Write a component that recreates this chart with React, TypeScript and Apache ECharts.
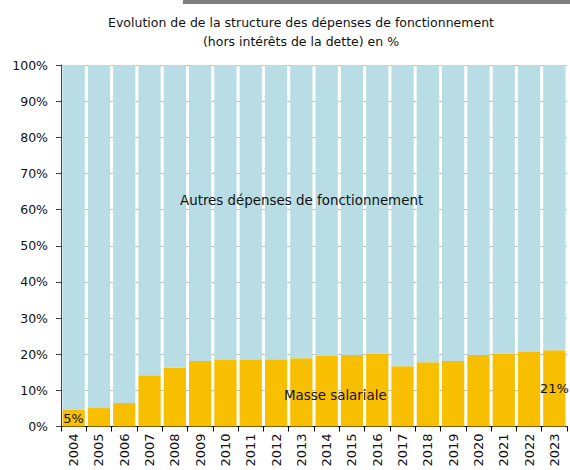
import React, { useEffect, useRef } from "react";
import * as echarts from "echarts";

const years = ["2004","2005","2006","2007","2008","2009","2010","2011","2012","2013","2014","2015","2016","2017","2018","2019","2020","2021","2022","2023"];
const masseSalariale = [4.7,5.1,6.5,14.2,16.3,18.1,18.4,18.4,18.6,18.9,19.5,19.8,20.2,16.7,17.8,18.1,19.8,20.2,20.6,21.1];
const autres = masseSalariale.map((v) => +(100 - v).toFixed(1));
const yTicks = [0, 10, 20, 30, 40, 50, 60, 70, 80, 90, 100];

const FONT = "DejaVu Sans";

export default function App() {
  const ref = useRef<HTMLDivElement>(null);
  useEffect(() => {
    if (!ref.current) return;
    const chart = echarts.init(ref.current, null, { renderer: "svg" });
    const last = masseSalariale.length - 1;
    chart.setOption({
      animation: false,
      backgroundColor: "#ffffff",
      textStyle: { fontFamily: FONT },
      title: {
        text: "Evolution de de la structure des dépenses de fonctionnement\n(hors intérêts de la dette) en %",
        left: 296,
        top: 8,
        textAlign: "center",
        textStyle: { fontFamily: FONT, fontSize: 12.5, fontWeight: "normal", color: "#111", lineHeight: 19 },
      },
      graphic: [
        { type: "rect", left: 183, top: 0, z: 100, shape: { width: 387, height: 4 }, style: { fill: "#7f7f7f" } },
        { type: "text", left: 180, top: 194, z: 100, style: { text: "Autres dépenses de fonctionnement", fontFamily: FONT, fontSize: 13.4, fill: "#111" } },
        { type: "text", left: 284, top: 389, z: 100, style: { text: "Masse salariale", fontFamily: FONT, fontSize: 13.4, fill: "#111" } },
      ],
      grid: { left: 61, right: 3, top: 65, bottom: 43.5, containLabel: false },
      xAxis: {
        type: "category",
        data: years,
        axisLine: { lineStyle: { color: "#000", width: 1 } },
        axisTick: { show: true, length: 5, lineStyle: { color: "#000" } },
        axisLabel: { rotate: 90, fontFamily: FONT, fontSize: 13, color: "#111", margin: 7 },
      },
      yAxis: {
        type: "value",
        min: 0,
        max: 100,
        interval: 10,
        axisLine: { show: true, lineStyle: { color: "#444" } },
        axisTick: { show: true, length: 5, lineStyle: { color: "#444" } },
        axisLabel: {
          fontFamily: FONT,
          fontSize: 12.5,
          color: "#111",
          margin: 13,
          formatter: (v: number) => (yTicks.includes(v) ? v + "%" : ""),
        },
        splitLine: { show: true, lineStyle: { color: "#bfbfbf", width: 1 } },
      },
      series: [
        {
          name: "Masse salariale",
          type: "bar",
          stack: "total",
          barCategoryGap: "12%",
          itemStyle: { color: "#f7bf00" },
          data: masseSalariale.map((v, i) =>
            i === 0 || i === last
              ? { value: v, label: { show: true, position: "inside", formatter: Math.round(v) + "%", fontFamily: FONT, fontSize: 13, color: "#111" } }
              : v
          ),
        },
        {
          name: "Autres dépenses de fonctionnement",
          type: "bar",
          stack: "total",
          barCategoryGap: "12%",
          itemStyle: { color: "#b8dde4" },
          data: autres,
        },
      ],
    });
    return () => chart.dispose();
  }, []);
  return <div ref={ref} style={{ position: "fixed", left: 0, top: 0, width: 570, height: 470 }} />;
}
